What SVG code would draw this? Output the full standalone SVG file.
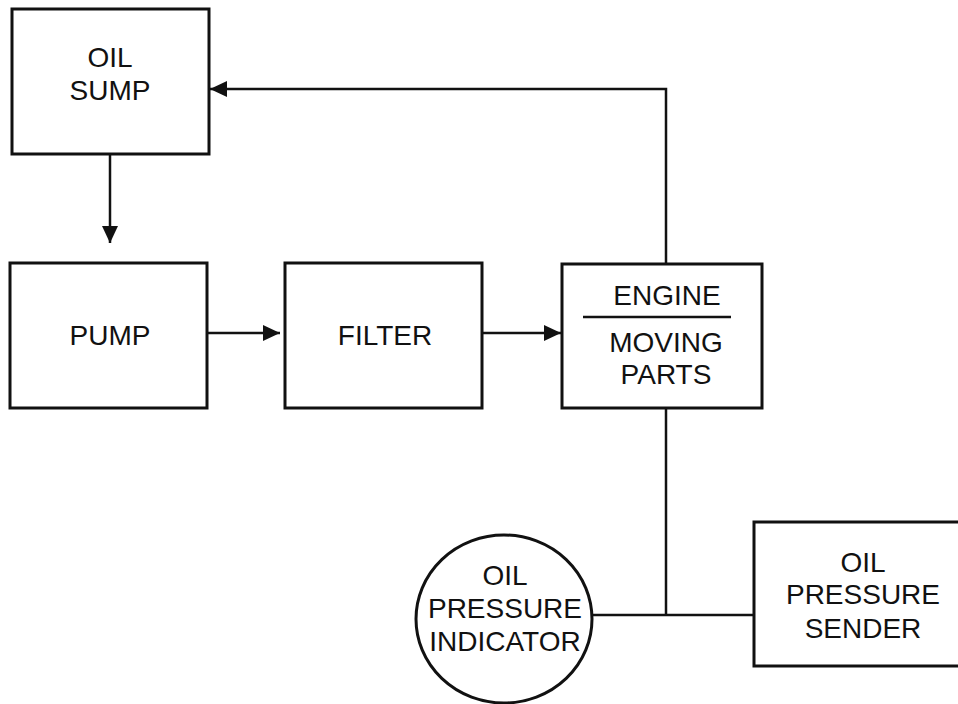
<svg xmlns="http://www.w3.org/2000/svg" width="958" height="704" viewBox="0 0 958 704">
<style>
.box{fill:#fff;stroke:#111;stroke-width:3}
.ln{fill:none;stroke:#111;stroke-width:2.5}
text{font-family:"Liberation Sans",Arial,sans-serif;font-size:28px;fill:#111;text-anchor:middle}
</style>
<defs>
<marker id="ah" markerWidth="17" markerHeight="16" refX="17" refY="8" orient="auto" markerUnits="userSpaceOnUse">
<path d="M0,0 L17,8 L0,16 Z" fill="#111"/>
</marker>
</defs>
<rect width="958" height="704" fill="#fff"/>
<g id="connectors">
<line class="ln" x1="110" y1="154" x2="110" y2="243" marker-end="url(#ah)"/>
<line class="ln" x1="207" y1="333" x2="280" y2="333" marker-end="url(#ah)"/>
<line class="ln" x1="482" y1="333" x2="561" y2="333" marker-end="url(#ah)"/>
<polyline class="ln" points="666,264 666,89 210,89" marker-end="url(#ah)"/>
<line class="ln" x1="666" y1="408" x2="666" y2="615"/>
<line class="ln" x1="592" y1="615" x2="754" y2="615"/>
</g>
<g id="oil-sump">
<rect class="box" x="12" y="9" width="197" height="145"/>
<text x="110" y="67">OIL</text>
<text x="110" y="100">SUMP</text>
</g>
<g id="pump">
<rect class="box" x="10" y="263" width="197" height="145"/>
<text x="110" y="345">PUMP</text>
</g>
<g id="filter">
<rect class="box" x="285" y="263" width="197" height="145"/>
<text x="385" y="345">FILTER</text>
</g>
<g id="engine">
<rect class="box" x="562" y="264" width="200" height="144"/>
<text x="667" y="305">ENGINE</text>
<line class="ln" x1="583" y1="317" x2="731" y2="317"/>
<text x="666" y="352">MOVING</text>
<text x="666" y="384">PARTS</text>
</g>
<g id="oil-pressure-indicator">
<ellipse class="box" cx="504" cy="619" rx="88" ry="84" stroke-width="2.5"/>
<text x="505" y="585">OIL</text>
<text x="505" y="618">PRESSURE</text>
<text x="505" y="651">INDICATOR</text>
</g>
<g id="oil-pressure-sender">
<rect class="box" x="754" y="522" width="210" height="144"/>
<text x="863" y="572">OIL</text>
<text x="863" y="604">PRESSURE</text>
<text x="863" y="638">SENDER</text>
</g>
</svg>
